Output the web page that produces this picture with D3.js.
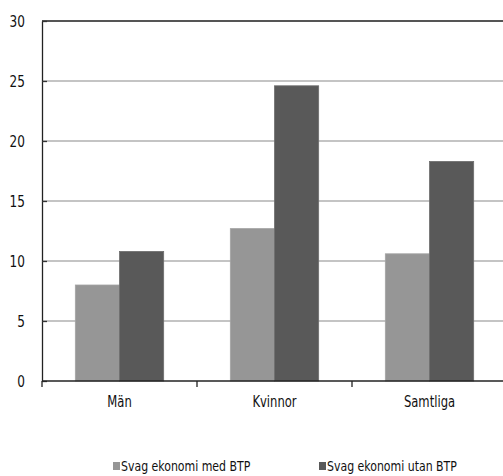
<!DOCTYPE html>
<html>
<head>
<meta charset="utf-8">
<script src="https://cdn.jsdelivr.net/npm/d3@7"></script>
<style>
  html, body { margin: 0; padding: 0; background: #fff; }
  svg { display: block; }
  text { font-family: "DejaVu Sans Condensed", "DejaVu Sans", sans-serif; fill: #111; }
</style>
</head>
<body>
<svg id="chart" width="503" height="476"></svg>
<script>
// Categories, series and values
const categories = ["Män", "Kvinnor", "Samtliga"];
const seriesNames = ["Svag ekonomi med BTP", "Svag ekonomi utan BTP"];
const withBTP = [8.0, 12.7, 10.6];
const withoutBTP = [10.8, 24.6, 18.3];
const yTicks = [0, 5, 10, 15, 20, 25, 30];
const seriesColors = ["#969696", "#595959"];

const rows = categories.map((c, i) => ({ category: c, values: [withBTP[i], withoutBTP[i]] }));

const svg = d3.select("#chart");
const plotLeft = 42, plotRight = 507, plotTop = 21, plotBottom = 381;

const x = d3.scaleBand().domain(categories).range([plotLeft, plotRight]).padding(0);
const xs = d3.scaleBand().domain(d3.range(seriesNames.length))
  .range([x.bandwidth() * 0.215, x.bandwidth() * 0.785]).padding(0);
const y = d3.scaleLinear().domain([0, 30]).range([plotBottom, plotTop]);

// Horizontal gridlines
svg.append("g").selectAll("line")
  .data(yTicks.filter(t => t > 0 && t < 30))
  .join("line")
  .attr("x1", plotLeft).attr("x2", plotRight)
  .attr("y1", d => y(d)).attr("y2", d => y(d))
  .attr("stroke", "#c4c4c4").attr("stroke-width", 2);

// Top frame line
svg.append("line")
  .attr("x1", plotLeft).attr("x2", plotRight)
  .attr("y1", y(30)).attr("y2", y(30))
  .attr("stroke", "#555").attr("stroke-width", 2);

// Bars
const groups = svg.append("g").selectAll("g")
  .data(rows).join("g")
  .attr("transform", d => `translate(${x(d.category)},0)`);
groups.selectAll("rect")
  .data(d => d.values.map((v, i) => ({ v, i })))
  .join("rect")
  .attr("x", d => xs(d.i))
  .attr("width", xs.bandwidth())
  .attr("y", d => y(d.v))
  .attr("height", d => y(0) - y(d.v))
  .attr("fill", d => seriesColors[d.i])
  .attr("stroke", d => d.i === 0 ? "#a4a4a4" : "#6e6e6e")
  .attr("stroke-width", 0.8);

// Y axis with inward ticks; labels narrowed horizontally
const yAxis = svg.append("g")
  .attr("transform", `translate(${plotLeft},0)`)
  .call(d3.axisLeft(y).tickValues(yTicks).tickSizeInner(-5).tickSizeOuter(0).tickPadding(17));
yAxis.select(".domain").attr("stroke", "#222").attr("stroke-width", 1.3);
yAxis.selectAll(".tick line").attr("stroke", "#333").attr("stroke-width", 1.3);
yAxis.selectAll(".tick text")
  .attr("x", 0)
  .attr("dy", "0.36em")
  .attr("transform", "translate(-17,0) scale(0.84,1)")
  .style("font-family", '"DejaVu Sans Condensed", "DejaVu Sans", sans-serif')
  .style("font-size", "16px").attr("fill", "#111");

// X axis: baseline, ticks at category boundaries, labels
svg.append("line")
  .attr("x1", plotLeft).attr("x2", plotRight)
  .attr("y1", y(0)).attr("y2", y(0))
  .attr("stroke", "#222").attr("stroke-width", 1.3);
svg.append("g").selectAll("line")
  .data(categories)
  .join("line")
  .attr("x1", d => x(d)).attr("x2", d => x(d))
  .attr("y1", y(0)).attr("y2", y(0) + 6)
  .attr("stroke", "#222").attr("stroke-width", 1.3);
svg.append("g").selectAll("text")
  .data(categories)
  .join("text")
  .attr("transform", d => `translate(${x(d) + x.bandwidth() / 2},407) scale(0.86,1)`)
  .attr("text-anchor", "middle")
  .style("font-size", "15px")
  .text(d => d);

// Legend
const legendX = [113, 319];
const legend = svg.append("g").selectAll("g")
  .data(seriesNames).join("g")
  .attr("transform", (d, i) => `translate(${legendX[i]},462)`);
legend.append("rect")
  .attr("width", 7).attr("height", 8)
  .attr("fill", (d, i) => seriesColors[i]);
legend.append("text")
  .attr("transform", "translate(8,9) scale(0.84,1)")
  .style("font-size", "14.5px")
  .text(d => d);
</script>
</body>
</html>
